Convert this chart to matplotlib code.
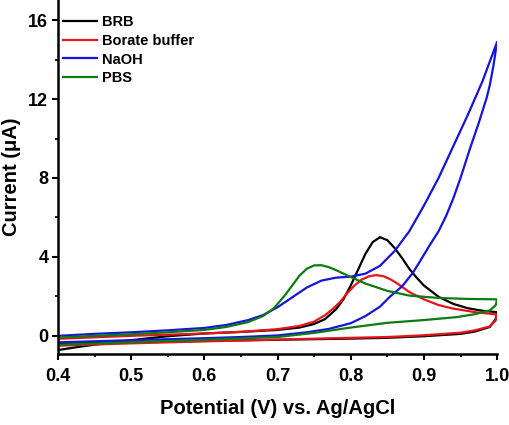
import matplotlib
matplotlib.use("Agg")
import matplotlib.pyplot as plt
from matplotlib.ticker import MultipleLocator

plt.rcParams['font.family'] = ['Liberation Sans', 'DejaVu Sans']
plt.rcParams['font.weight'] = 'bold'

# BRB (black): forward scan then reverse scan
brb_fwd_v = [0.40, 0.43, 0.46, 0.50, 0.55, 0.60, 0.65, 0.70, 0.73, 0.75, 0.765, 0.78, 0.79,
             0.80, 0.81, 0.82, 0.83, 0.84, 0.85, 0.86, 0.87, 0.88, 0.89, 0.90, 0.92, 0.94,
             0.96, 0.98, 1.00]
brb_fwd_i = [-0.72, -0.55, -0.40, -0.22, -0.02, 0.12, 0.20, 0.30, 0.42, 0.60, 0.85, 1.35, 1.85,
             2.55, 3.35, 4.15, 4.75, 5.00, 4.85, 4.45, 3.95, 3.40, 2.95, 2.55, 1.98, 1.62,
             1.40, 1.27, 1.20]
brb_rev_v = [1.00, 0.998, 0.99, 0.97, 0.95, 0.90, 0.85, 0.80, 0.70, 0.60, 0.50, 0.40]
brb_rev_i = [1.20, 0.85, 0.45, 0.22, 0.10, -0.02, -0.10, -0.14, -0.20, -0.26, -0.32, -0.40]

# Borate buffer (red)
bor_fwd_v = [0.40, 0.50, 0.60, 0.65, 0.70, 0.73, 0.75, 0.765, 0.775, 0.785, 0.795, 0.805,
             0.815, 0.825, 0.835, 0.845, 0.855, 0.865, 0.88, 0.90, 0.92, 0.94, 0.97, 1.00]
bor_fwd_i = [-0.15, 0.00, 0.12, 0.20, 0.34, 0.50, 0.72, 1.05, 1.35, 1.70, 2.15, 2.55,
             2.85, 3.02, 3.08, 3.02, 2.85, 2.62, 2.22, 1.85, 1.56, 1.38, 1.20, 1.08]
bor_rev_v = [1.00, 0.998, 0.99, 0.97, 0.95, 0.90, 0.85, 0.80, 0.70, 0.60, 0.50, 0.40]
bor_rev_i = [1.08, 0.78, 0.48, 0.28, 0.16, 0.03, -0.06, -0.10, -0.19, -0.28, -0.38, -0.50]

# NaOH (blue)
naoh_fwd_v = [0.40, 0.45, 0.50, 0.55, 0.60, 0.63, 0.66, 0.68, 0.70, 0.72, 0.74, 0.76, 0.78,
              0.80, 0.82, 0.84, 0.86, 0.88, 0.90, 0.92, 0.94, 0.96, 0.97, 0.98, 0.99, 1.00]
naoh_fwd_i = [0.00, 0.10, 0.18, 0.28, 0.40, 0.55, 0.80, 1.05, 1.45, 1.95, 2.45, 2.80, 2.95,
              3.00, 3.15, 3.55, 4.30, 5.30, 6.60, 8.00, 9.60, 11.20, 12.05, 12.90, 13.90, 14.90]
naoh_rev_v = [1.00, 0.995, 0.99, 0.986, 0.975, 0.963, 0.95, 0.94, 0.93, 0.92, 0.908, 0.895,
              0.885, 0.87, 0.854, 0.84, 0.82, 0.80, 0.77, 0.74, 0.70, 0.65, 0.60, 0.50, 0.40]
naoh_rev_i = [14.90, 13.70, 12.70, 12.10, 10.80, 9.50, 8.00, 6.95, 6.05, 5.30, 4.60, 3.80,
              3.20, 2.50, 2.00, 1.48, 1.00, 0.64, 0.35, 0.18, 0.02, -0.06, -0.12, -0.22, -0.33]

# PBS (green)
pbs_fwd_v = [0.40, 0.45, 0.50, 0.55, 0.60, 0.63, 0.66, 0.68, 0.695, 0.71, 0.72, 0.73, 0.74,
             0.75, 0.76, 0.77, 0.78, 0.80, 0.82, 0.85, 0.88, 0.92, 0.96, 1.00]
pbs_fwd_i = [-0.08, 0.00, 0.08, 0.18, 0.30, 0.45, 0.70, 1.00, 1.40, 2.05, 2.55, 3.05, 3.40,
             3.57, 3.58, 3.48, 3.33, 2.98, 2.65, 2.28, 2.04, 1.92, 1.87, 1.85]
pbs_rev_v = [1.00, 0.998, 0.99, 0.97, 0.945, 0.90, 0.85, 0.80, 0.75, 0.70, 0.60, 0.50, 0.40]
pbs_rev_i = [1.85, 1.55, 1.29, 1.10, 0.95, 0.80, 0.66, 0.42, 0.15, -0.06, -0.20, -0.32, -0.45]

labels = ["BRB", "Borate buffer", "NaOH", "PBS"]
colors = ["#000000", "#e8141c", "#1414e0", "#0d7a12"]
series = [
    (brb_fwd_v + brb_rev_v, brb_fwd_i + brb_rev_i),
    (bor_fwd_v + bor_rev_v, bor_fwd_i + bor_rev_i),
    (naoh_fwd_v + naoh_rev_v, naoh_fwd_i + naoh_rev_i),
    (pbs_fwd_v + pbs_rev_v, pbs_fwd_i + pbs_rev_i),
]

fig = plt.figure(figsize=(5.1, 4.25), dpi=100)
ax = fig.add_axes([0.1137, 0.168, 0.861, 0.831])

for (v, i), lab, c in zip(series, labels, colors):
    ax.plot(v, i, color=c, lw=1.6, label=lab, solid_joinstyle='round')

ax.set_xlim(0.4, 1.0)
ax.set_ylim(-0.9, 17)
ax.xaxis.set_minor_locator(MultipleLocator(0.05))
ax.yaxis.set_minor_locator(MultipleLocator(2))
ax.set_xticks([0.4, 0.5, 0.6, 0.7, 0.8, 0.9, 1.0])
ax.set_xticklabels(["0.4", "0.5", "0.6", "0.7", "0.8", "0.9", "1.0"])
ax.set_yticks([0, 4, 8, 12, 16])

ax.spines['top'].set_visible(False)
ax.spines['right'].set_visible(False)
for s in ['left', 'bottom']:
    ax.spines[s].set_linewidth(1.8)
ax.tick_params(which='major', direction='out', length=4.5, width=1.5, labelsize=13)
ax.tick_params(axis='x', which='major', pad=6)
ax.tick_params(axis='y', which='major', pad=2.5)
ax.tick_params(which='minor', direction='out', length=2.5, width=1.3)

ax.set_xlabel("Potential (V) vs. Ag/AgCl", fontsize=14.5, fontweight='bold', labelpad=10)
ax.set_ylabel("Current (\u03bcA)", fontsize=14.5, fontweight='bold')
ax.yaxis.set_label_coords(-0.085, 0.5)

leg = ax.legend(loc='upper left', bbox_to_anchor=(0.0114, 0.958), frameon=False, fontsize=10.5,
                handlelength=2.3, handletextpad=0.35, labelspacing=0.32, borderaxespad=0,
                borderpad=0)
for t in leg.get_texts():
    t.set_fontweight('bold')

fig.savefig("out.png", dpi=100)
